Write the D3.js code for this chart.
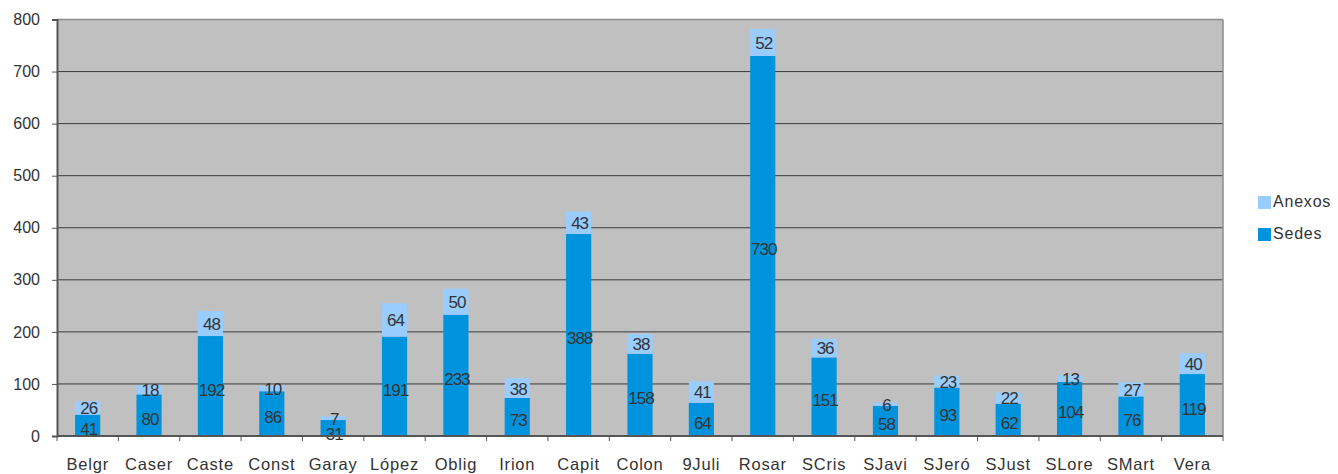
<!DOCTYPE html>
<html><head><meta charset="utf-8">
<script src="https://cdn.jsdelivr.net/npm/d3@7"></script>
<style>body{margin:0;background:#fff}svg text{font-family:"Liberation Sans",Arial,sans-serif}</style>
</head><body><svg id="c" width="1338" height="474"></svg>
<script>
const categories=["Belgr","Caser","Caste","Const","Garay","López","Oblig","Irion","Capit","Colon","9Juli","Rosar","SCris","SJavi","SJeró","SJust","SLore","SMart","Vera"];
const sedes=[41,80,192,86,31,191,233,73,388,158,64,730,151,58,93,62,104,76,119];
const anexos=[26,18,48,10,7,64,50,38,43,38,41,52,36,6,23,22,13,27,40];
const yTicks=[0,100,200,300,400,500,600,700,800];
const seriesNames=["Anexos","Sedes"];
const colors={Sedes:"#0093DD",Anexos:"#99CCFF"};

const svg=d3.select("#c");
const L=57,R=1223,T=19.5,B=436;
const x=d3.scaleBand().domain(categories).range([L,R]).paddingInner(0.59).paddingOuter(0.295);
const xb=d3.scaleBand().domain(categories).range([L,R]);
const y=d3.scaleLinear().domain([0,800]).range([B,T]);

svg.append("rect").attr("x",L).attr("y",T).attr("width",R-L).attr("height",B-T).attr("fill","#C0C0C0");
svg.append("g").selectAll("line").data(yTicks.filter(d=>d>0&&d<800)).join("line")
 .attr("x1",L).attr("x2",R).attr("y1",d=>y(d)).attr("y2",d=>y(d)).attr("stroke","#3a3a3a").attr("stroke-width",1);
svg.append("line").attr("x1",L).attr("x2",R).attr("y1",y(800)).attr("y2",y(800)).attr("stroke","#8c8c8c").attr("stroke-width",1.5);
svg.append("line").attr("x1",R).attr("x2",R).attr("y1",T).attr("y2",B).attr("stroke","#8c8c8c").attr("stroke-width",1.5);

const stackData=categories.map((c,i)=>({c,Sedes:sedes[i],Anexos:anexos[i]}));
const stack=d3.stack().keys(["Sedes","Anexos"])(stackData);
const g=svg.append("g");
stack.forEach(s=>{
  g.append("g").selectAll("rect").data(s).join("rect")
   .attr("x",d=>x(d.data.c)).attr("width",x.bandwidth())
   .attr("y",d=>y(d[1])).attr("height",d=>y(d[0])-y(d[1])).attr("fill",colors[s.key]);
});
const anexLabelY=stack[1].map(d=>y((d[0]+d[1])/2)+2);
const sedLabelY=stack[0].map((d,i)=>Math.max(y((d[0]+d[1])/2)+5,anexLabelY[i]+15));
stack.forEach(s=>{
  const ys=s.key==="Sedes"?sedLabelY:anexLabelY;
  g.append("g").selectAll("text").data(s).join("text")
   .attr("x",d=>x(d.data.c)+x.bandwidth()/2+1)
   .attr("y",(d,i)=>ys[i])
   .attr("text-anchor","middle").attr("dominant-baseline","middle")
   .attr("font-size",17).attr("letter-spacing","-1").attr("fill","#333")
   .text(d=>d[1]-d[0]);
});

const ya=svg.append("g").attr("transform",`translate(${L},0)`)
 .call(d3.axisLeft(y).tickValues(yTicks).tickSize(5).tickPadding(12));
ya.select(".domain").attr("stroke","#555").attr("stroke-width",2);
ya.selectAll(".tick line").attr("stroke","#555");
ya.selectAll("text").attr("font-size",16).attr("fill","#333").attr("font-family","Liberation Sans, Arial, sans-serif");

const xa=svg.append("g").attr("transform",`translate(0,${B})`);
xa.append("line").attr("x1",L).attr("x2",R).attr("stroke","#555").attr("stroke-width",2);
xa.selectAll("line.t").data(categories.concat(["__end"])).join("line").attr("class","t")
 .attr("x1",(d,i)=>L+i*xb.step()).attr("x2",(d,i)=>L+i*xb.step()).attr("y1",0).attr("y2",5).attr("stroke","#555");
xa.selectAll("text").data(categories).join("text")
 .attr("x",d=>xb(d)+xb.bandwidth()/2).attr("y",34)
 .attr("text-anchor","middle").attr("font-size",16.5).attr("letter-spacing","0.8").attr("fill","#333").text(d=>d);

const lg=svg.append("g");
seriesNames.forEach((n,i)=>{
  lg.append("rect").attr("x",1258).attr("y",196+i*32).attr("width",13).attr("height",13).attr("fill",colors[n]);
  lg.append("text").attr("x",1273).attr("y",202.5+i*32).attr("dominant-baseline","middle")
   .attr("font-size",16).attr("letter-spacing","0.8").attr("fill","#333").text(n);
});
</script></body></html>
